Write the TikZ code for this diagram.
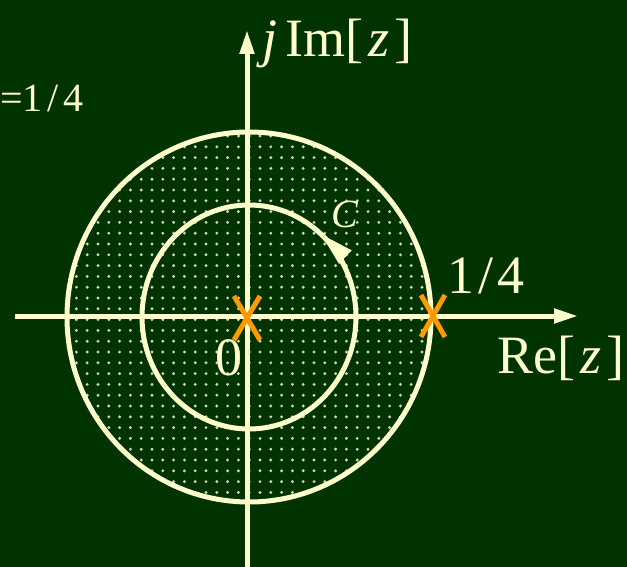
\documentclass[tikz,border=0pt]{standalone}
\usepackage{fontspec}
\setmainfont{Liberation Serif}
\usetikzlibrary{arrows.meta}
\definecolor{bggreen}{RGB}{0,51,0}
\definecolor{cream}{RGB}{255,255,204}
\definecolor{xorange}{RGB}{255,153,0}
\definecolor{dotcol}{RGB}{205,220,175}
\tikzset{
  axis/.style={cream, line width=5pt, -{Triangle[length=24pt,width=14pt]}},
  ring/.style={cream, line width=5pt},
  xmark/.style={xorange, line width=5pt},
  biglabel/.style={cream, inner sep=0pt, anchor=base west, font=\fontsize{54}{60}\selectfont},
  smalllabel/.style={cream, inner sep=0pt, anchor=base west, font=\fontsize{40}{46}\selectfont},
}
\begin{document}
\begin{tikzpicture}[x=1pt,y=-1pt]
  \fill[bggreen] (0,0) rectangle (627,567);
  \useasboundingbox (0,0) rectangle (627,567);
  \coordinate (C0) at (249,317);
  % dotted region inside big circle
  \begin{scope}
    \clip (C0) ellipse [x radius=180pt, y radius=183pt];
    \foreach \m in {-1,...,34} {
      \foreach \k in {-18,...,16} {
        \fill[dotcol] (260+10.8*\k, 136+10.8*\m) circle [radius=1.6pt];
      }
    }
  \end{scope}
  % circles
  \draw[ring] (C0) ellipse [x radius=182pt, y radius=185pt];
  \draw[ring] (C0) ellipse [x radius=107pt, y radius=112pt];
  % contour arrow (counterclockwise)
  \draw[cream, line width=5pt, -{Triangle[length=34pt,width=17pt]}]
    ([shift={(29:107pt and 112pt)}]C0) arc [start angle=29, end angle=48, x radius=107pt, y radius=112pt];
  % axes
  \coordinate (xs) at (15,316);
  \coordinate (xe) at (578,316);
  \coordinate (ys) at (247,567);
  \coordinate (ye) at (247,30);
  \draw[axis] (xs) -- (xe);
  \draw[axis] (ys) -- (ye);
  % poles
  \coordinate (P0) at (247,318);
  \coordinate (P1) at (433,316);
  \draw[xmark] (P0) ++(-13,-22) -- ++(26,44) (P0) ++(13,-22) -- ++(-26,44);
  \draw[xmark] (P1) ++(-12,-21) -- ++(24,42) (P1) ++(12,-21) -- ++(-24,42);
  % labels
  \node[biglabel] (lim) at (262,57) {\textit{j}\kern8pt Im[\kern5pt\textit{z}\kern5pt]};
  \node[smalllabel] (lroc) at (0,112) {=1\kern5pt/\kern5pt4};
  \node[biglabel] (lq) at (447,293) {1\kern4pt/\kern4pt4};
  \node[biglabel] (lre) at (497,373) {Re[\kern5pt\textit{z}\kern5pt]};
  \node[biglabel] (lzero) at (215,375) {0};
  \node[smalllabel] (lc) at (331,228) {\textit{C}};
\end{tikzpicture}
\end{document}
